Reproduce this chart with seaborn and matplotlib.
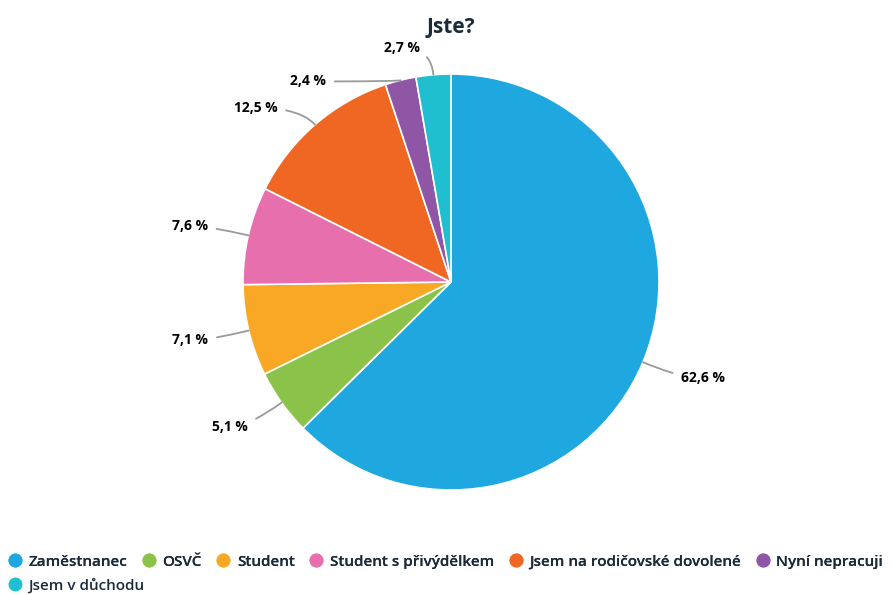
import numpy as np
import matplotlib
matplotlib.use("Agg")
import matplotlib.pyplot as plt
from matplotlib.lines import Line2D
import seaborn as sns

# Survey answers: "Jste?" (employment status)
categories = [
    "Zaměstnanec",
    "OSVČ",
    "Student",
    "Student s přivýdělkem",
    "Jsem na rodičovské dovolené",
    "Nyní nepracuji",
    "Jsem v důchodu",
]
shares = [62.6, 5.1, 7.1, 7.6, 12.5, 2.4, 2.7]
colors = ["#1fa8e0", "#8bc34a", "#f9a825", "#e86fae", "#f06724", "#8e56a5", "#20bfcf"]

title_text = "Jste?"

sns.set_theme(style="white")
plt.rcParams["font.family"] = ["Open Sans", "DejaVu Sans"]

text_color = "#1c2b3a"
line_color = "#9a9a9a"

fig = plt.figure(figsize=(8.93, 5.95), dpi=100)
fig.patch.set_facecolor("white")

# Pie axes: center ~ (451, 282) px, radius ~ 208 px
W, H = 893, 595
cx, cy, r = 451, 282, 208
pad = 1.35
ax = fig.add_axes([(cx - r * pad) / W, 1 - (cy + r * pad) / H,
                   2 * r * pad / W, 2 * r * pad / H])

wedges, _ = ax.pie(
    shares,
    colors=colors,
    startangle=90,
    counterclock=False,
    radius=1.0,
    center=(0, 0),
    wedgeprops=dict(edgecolor="white", linewidth=1.2),
)
ax.set_xlim(-pad, pad)
ax.set_ylim(-pad, pad)
ax.set_aspect("equal")
ax.axis("off")

# Extra nudges (in radius units) for crowded labels
label_nudge = {
    "Nyní nepracuji": (-0.31, -0.20),
    "Jsem v důchodu": (-0.05, -0.07),
    "Jsem na rodičovské dovolené": (-0.05, -0.07),
}

for name, val, w in zip(categories, shares, wedges):
    mid = np.deg2rad((w.theta1 + w.theta2) / 2.0)
    ux, uy = np.cos(mid), np.sin(mid)
    tx, ty = 1.2 * ux, 1.2 * uy
    dx, dy = label_nudge.get(name, (0.0, 0.0))
    tx += dx
    ty += dy
    side = 1 if tx >= 0 else -1
    label = f"{val:.1f}".replace(".", ",") + " %"
    ax.annotate(
        label,
        xy=(ux, uy),
        xytext=(tx, ty),
        ha="left" if side > 0 else "right",
        va="center",
        fontsize=10,
        fontweight="bold",
        color="black",
        arrowprops=dict(
            arrowstyle="-",
            color=line_color,
            lw=1.3,
            shrinkA=4,
            shrinkB=0,
            connectionstyle=f"angle3,angleA=0,angleB={np.rad2deg(mid):.1f}",
        ),
    )

fig.text(cx / W, 1 - 27 / H, title_text, ha="center", va="center",
         fontsize=15, fontweight="bold", color=text_color)

# Legend: first six items on one row, the last on a second row
def handle(c):
    return Line2D([0], [0], marker="o", linestyle="none", markersize=9,
                  markerfacecolor=c, markeredgecolor=c)

legend_prop = {"weight": "semibold", "size": 11}

leg1 = fig.legend(
    [handle(c) for c in colors[:6]], categories[:6],
    loc="center left", bbox_to_anchor=(8 / W, 1 - 562 / H),
    ncol=6, frameon=False, handletextpad=0.45,
    columnspacing=0.95, handlelength=0.9, borderaxespad=0, borderpad=0,
    labelcolor=text_color, prop=legend_prop,
)
leg2 = fig.legend(
    [handle(colors[6])], categories[6:],
    loc="center left", bbox_to_anchor=(8 / W, 1 - 585 / H),
    ncol=1, frameon=False, handletextpad=0.45, handlelength=0.9,
    borderaxespad=0, borderpad=0, labelcolor=text_color, prop=legend_prop,
)
fig.add_artist(leg1)

fig.savefig("out.png", dpi=100, facecolor="white")
